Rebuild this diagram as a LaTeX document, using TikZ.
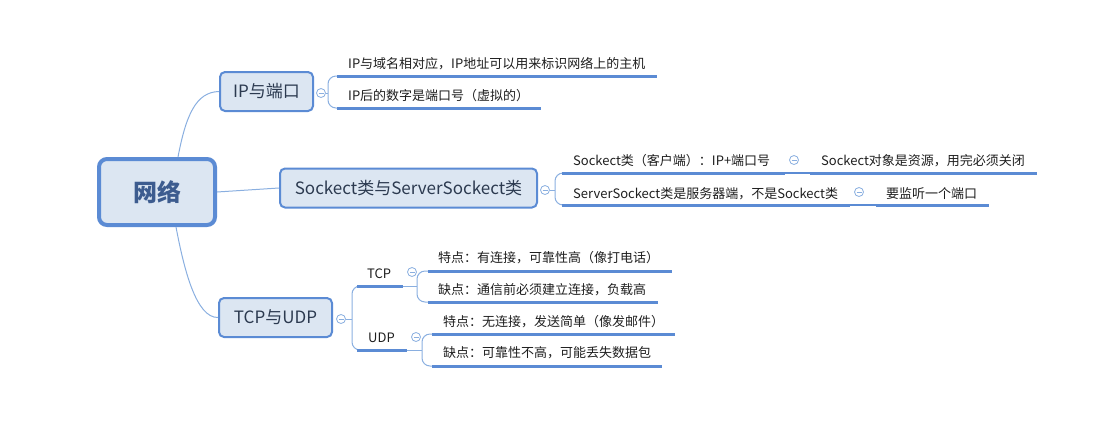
\documentclass[tikz,border=0pt]{standalone}
\usepackage{fontspec}
\setmainfont{Noto Sans CJK SC}
\definecolor{bord}{HTML}{5B8BD4}
\definecolor{fillc}{HTML}{DCE6F2}
\definecolor{conn}{HTML}{8AAFE0}
\definecolor{uline}{HTML}{5B8BD4}
\definecolor{topictext}{HTML}{2C3A50}
\definecolor{roottext}{HTML}{3D5C8F}
\definecolor{leaftext}{HTML}{1E1E1E}
\begin{document}
\begin{tikzpicture}[x=1pt,y=-1pt,
  rootbox/.style={draw=bord, line width=4pt, fill=fillc, rounded corners=8pt,
    minimum width=116pt, minimum height=66pt, inner sep=0pt,
    font=\fontsize{24}{28}\selectfont\bfseries, text=roottext},
  topicbox/.style={draw=bord, line width=2pt, fill=fillc, rounded corners=5pt,
    minimum height=39pt, inner sep=0pt,
    font=\fontsize{17}{20}\selectfont, text=topictext},
  leaf/.style={anchor=base west, inner sep=0pt, font=\fontsize{13}{15}\selectfont, text=leaftext},
  coll/.style={circle, draw=conn, line width=0.8pt, fill=white, minimum size=9pt, inner sep=0pt,
    path picture={\draw[conn, line width=0.8pt]
      ([xshift=-2.5pt]path picture bounding box.center) --
      ([xshift=2.5pt]path picture bounding box.center);}},
  connline/.style={draw=conn, line width=1pt},
  bracket/.style={draw=conn, line width=1pt, rounded corners=8pt},
  uln/.style={draw=uline, line width=3pt},
  link/.style={draw=uline, line width=1.2pt}
]
\useasboundingbox (0,0) rectangle (1098,432);

% root and topics
\node[rootbox] (root) at (157,192) {网络};
\node[topicbox, minimum width=93pt] (ip) at (266.5,91.5) {IP与端口};
\node[topicbox, minimum width=257pt] (sock) at (408.5,188) {Sockect类与ServerSockect类};
\node[topicbox, minimum width=113pt] (tcp) at (275.5,317.5) {TCP与UDP};

% root connectors
\coordinate (rtop) at (178,157);
\coordinate (rbot) at (176,227);
\draw[connline] (rtop) .. controls (186,115) and (196,92) .. (ip.west);
\draw[connline] (root.east) -- (sock.west);
\draw[connline] (rbot) .. controls (184,269) and (196,318) .. (tcp.west);

% ---------- IP group
\node[coll] (cip) at (321,93) {};
\coordinate (a1) at (337,76);  \coordinate (a1e) at (657,76);
\coordinate (a2) at (337,108); \coordinate (a2e) at (541,108);
\coordinate (am) at (328,93);
\draw[connline] (cip.east) -- (am);
\draw[bracket] (a1) -| (am) |- (a2);
\draw[uln] (a1) -- (a1e);
\draw[uln] (a2) -- (a2e);
\node[leaf] (t1) at (348,68) {IP与域名相对应，IP地址可以用来标识网络上的主机};
\node[leaf] (t2) at (348,100.5) {IP后的数字是端口号（虚拟的）};

% ---------- Sockect group
\node[coll] (cs) at (545,190) {};
\coordinate (b1) at (562,173); \coordinate (b1e) at (785,173);
\coordinate (b2) at (562,205); \coordinate (b2e) at (850,205);
\coordinate (bm) at (555,190);
\draw[connline] (cs.east) -- (bm);
\draw[bracket] (b1) -| (bm) |- (b2);
\draw[uln] (b1) -- (b1e);
\draw[uln] (b2) -- (b2e);
\node[leaf] (s1) at (573,165) {Sockect类（客户端）：IP+端口号};
\node[leaf] (s2) at (573,198) {ServerSockect类是服务器端，不是Sockect类};

\node[coll] (cs1) at (794,160) {};
\coordinate (g1) at (810,173); \coordinate (g1e) at (1037,173);
\draw[link] (b1e) -- (g1);
\draw[uln] (g1) -- (g1e);
\node[leaf] (s11) at (821,165) {Sockect对象是资源，用完必须关闭};

\node[coll] (cs2) at (859,192) {};
\coordinate (g2) at (876,205); \coordinate (g2e) at (989,205);
\draw[link] (b2e) -- (g2);
\draw[uln] (g2) -- (g2e);
\node[leaf] (s21) at (886,198) {要监听一个端口};

% ---------- TCP/UDP group
\node[coll] (ct) at (341,319) {};
\coordinate (c1) at (357,286); \coordinate (c1e) at (403,286);
\coordinate (c2) at (357,350); \coordinate (c2e) at (407,350);
\coordinate (cm) at (352,319);
\draw[connline] (ct.east) -- (cm);
\draw[bracket] (c1) -| (cm) |- (c2);
\draw[uln] (c1) -- (c1e);
\draw[uln] (c2) -- (c2e);
\node[leaf] (tt) at (367,278) {TCP};
\node[leaf] (tu) at (368,342) {UDP};

% TCP children
\node[coll] (ctt) at (412,272) {};
\coordinate (dm) at (417,286);
\coordinate (d1) at (428,271); \coordinate (d1e) at (672,271);
\coordinate (d2) at (428,302); \coordinate (d2e) at (658,302);
\draw[connline] (c1e) -- (dm);
\draw[bracket] (d1) -| (dm) |- (d2);
\draw[uln] (d1) -- (d1e);
\draw[uln] (d2) -- (d2e);
\node[leaf] (tt1) at (438,262.5) {特点：有连接，可靠性高（像打电话）};
\node[leaf] (tt2) at (438,294) {缺点：通信前必须建立连接，负载高};

% UDP children
\node[coll] (ctu) at (416,337) {};
\coordinate (em) at (422,350);
\coordinate (e1) at (432,334); \coordinate (e1e) at (675,334);
\coordinate (e2) at (432,366); \coordinate (e2e) at (662,366);
\draw[connline] (c2e) -- (em);
\draw[bracket] (e1) -| (em) |- (e2);
\draw[uln] (e1) -- (e1e);
\draw[uln] (e2) -- (e2e);
\node[leaf] (tu1) at (443,326) {特点：无连接，发送简单（像发邮件）};
\node[leaf] (tu2) at (443,357) {缺点：可靠性不高，可能丢失数据包};
\end{tikzpicture}
\end{document}
